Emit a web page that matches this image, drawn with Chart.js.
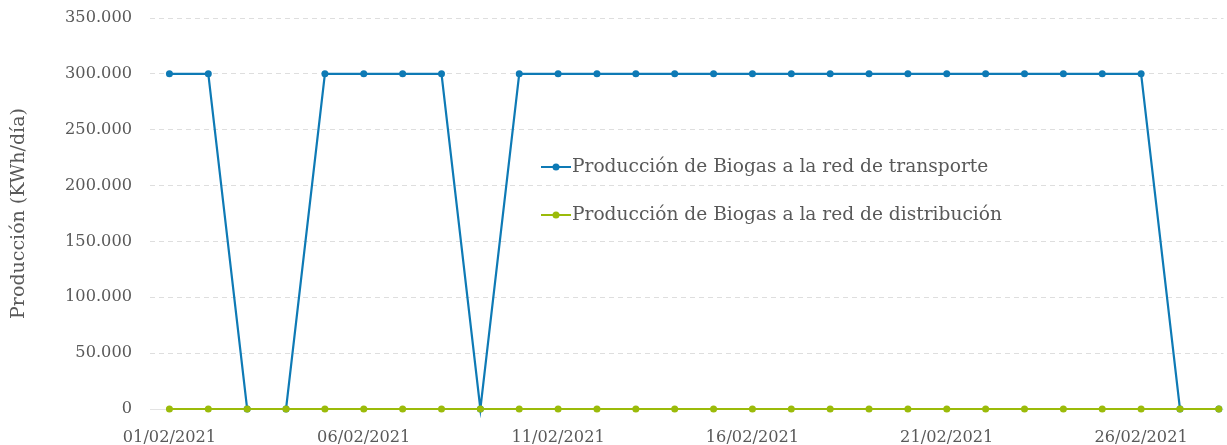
<!DOCTYPE html>
<html><head><meta charset="utf-8">
<script src="https://cdn.jsdelivr.net/npm/chart.js@4/dist/chart.umd.min.js"></script>
<style>html,body{margin:0;padding:0;background:#fff;}#wrap{width:1227px;height:445px;position:relative;}</style>
</head><body><div id="wrap"><canvas id="c" width="1227" height="445"></canvas></div>
<script>
const categories = ["01/02/2021","02/02/2021","03/02/2021","04/02/2021","05/02/2021","06/02/2021","07/02/2021","08/02/2021","09/02/2021","10/02/2021","11/02/2021","12/02/2021","13/02/2021","14/02/2021","15/02/2021","16/02/2021","17/02/2021","18/02/2021","19/02/2021","20/02/2021","21/02/2021","22/02/2021","23/02/2021","24/02/2021","25/02/2021","26/02/2021","27/02/2021","28/02/2021"];
const transporte = [300000,300000,0,0,300000,300000,300000,300000,0,300000,300000,300000,300000,300000,300000,300000,300000,300000,300000,300000,300000,300000,300000,300000,300000,300000,0,0];
const distribucion = [0,0,0,0,0,0,0,0,0,0,0,0,0,0,0,0,0,0,0,0,0,0,0,0,0,0,0,0];
const seriesNames = ["Producción de Biogas a la red de transporte","Producción de Biogas a la red de distribución"];
const yTicks = [0,50000,100000,150000,200000,250000,300000,350000];
const xTickStep = 5;

const FONT = "'DejaVu Serif', serif";
const TXT = "#595959";
const BLUE = "#0E7AB5", GREEN = "#9BBB0A";
function fmt(v){return String(v).replace(/\B(?=(\d{3})+(?!\d))/g,".");}
function pts(arr){return arr.map((v,i)=>({x:i,y:v}));}

const legendPlugin = {
  id:'innerLegend',
  afterDatasetsDraw(chart){
    const ctx = chart.ctx;
    const pos = [[541,167],[541,215]];
    chart.data.datasets.forEach((ds,i)=>{
      const [x,y] = pos[i];
      ctx.save();
      ctx.strokeStyle = ds.borderColor; ctx.lineWidth = 2;
      ctx.beginPath(); ctx.moveTo(x,y); ctx.lineTo(x+30,y); ctx.stroke();
      ctx.fillStyle = ds.borderColor;
      ctx.beginPath(); ctx.arc(x+15,y,3.5,0,Math.PI*2); ctx.fill();
      ctx.fillStyle = TXT; ctx.font = "18.6px " + FONT;
      ctx.textBaseline = "middle"; ctx.textAlign = "left";
      ctx.fillText(ds.label, x+31, y);
      ctx.restore();
    });
  }
};

new Chart(document.getElementById('c'), {
  type:'line',
  data:{datasets:[
    {label:seriesNames[0],data:pts(transporte),borderColor:BLUE,backgroundColor:BLUE,borderWidth:2.2,pointRadius:3.5,pointHoverRadius:3.5,pointBorderWidth:0,order:1,tension:0},
    {label:seriesNames[1],data:pts(distribucion),borderColor:GREEN,backgroundColor:GREEN,borderWidth:2.2,pointRadius:3.5,pointHoverRadius:3.5,pointBorderWidth:0,order:0,tension:0}
  ]},
  options:{
    responsive:false,animation:false,
    layout:{padding:{left:0,right:0,top:18,bottom:0}},
    plugins:{legend:{display:false},tooltip:{enabled:false}},
    clip:false,
    scales:{
      x:{type:'linear',min:-0.5,max:27.12,
        afterBuildTicks(axis){axis.ticks = categories.map((c,i)=>i).filter(i=>i%xTickStep===0).map(v=>({value:v}));},
        afterFit(axis){axis.height = 36; axis.paddingLeft = 0; axis.paddingRight = 0;},
        ticks:{autoSkip:false,maxRotation:0,color:TXT,font:{family:FONT,size:16.2},padding:19.5,callback:(v)=>categories[v]},
        grid:{display:false,drawTicks:false},border:{display:false}},
      y:{min:0,max:350000,
        afterBuildTicks(axis){axis.ticks = yTicks.map(v=>({value:v}));},
        afterFit(axis){axis.width = 150; axis.paddingTop = 0; axis.paddingBottom = 0;},
        ticks:{color:TXT,font:{family:FONT,size:16.2},padding:18,callback:(v)=>fmt(v)},
        title:{display:true,text:"Producción (KWh/día)",color:TXT,font:{family:FONT,size:19},padding:{top:8,bottom:0}},
        grid:{drawTicks:false,color:(c)=>c.tick && c.tick.value===0?'#e3e3e3':'#dedede',lineWidth:1},
        border:{display:false,dash:(c)=>c.tick && c.tick.value===0?[]:[5,4]}}
    }
  },
  plugins:[legendPlugin]
});
</script></body></html>
